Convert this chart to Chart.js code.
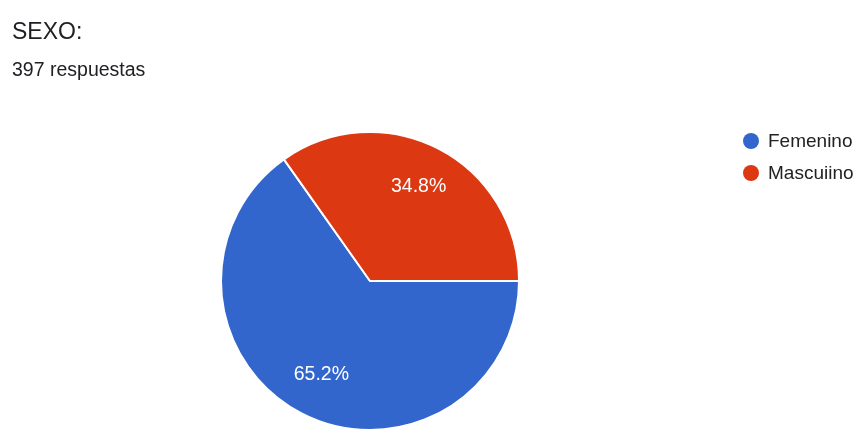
<!DOCTYPE html>
<html lang="es">
<head>
<meta charset="utf-8">
<title>SEXO:</title>
<script src="https://cdn.jsdelivr.net/npm/chart.js@4/dist/chart.umd.min.js"></script>
<style>
  html, body { margin: 0; padding: 0; background: #ffffff; }
  #wrap { position: relative; width: 856px; height: 436px; overflow: hidden;
          font-family: "Liberation Sans", Arial, sans-serif; color: #202124; }
  #chart { position: absolute; left: 0; top: 0; }
  #title { position: absolute; left: 12px; top: 20px; font-size: 23px; line-height: 23px; white-space: nowrap; }
  #subtitle { position: absolute; left: 12px; top: 59px; font-size: 19.5px; line-height: 20px; white-space: nowrap; }
  #legend { position: absolute; left: 743px; top: 131px; }
  .item { position: relative; height: 32px; font-size: 19px; line-height: 20px; color: #222; white-space: nowrap; }
  .dot { position: absolute; left: 0; top: 2px; width: 16px; height: 16px; border-radius: 50%; }
  .lbl { position: absolute; left: 25px; top: 0; }
</style>
</head>
<body>
<div id="wrap">
  <canvas id="chart" width="856" height="436"></canvas>
  <div id="title"></div>
  <div id="subtitle"></div>
  <div id="legend"></div>
</div>
<script>
// Question and response count
const questionTitle = 'SEXO:';
const responseLabel = '397 respuestas';

// Answers and their shares (%)
const categories = ['Femenino', 'Mascuiino'];
const shares = [65.2, 34.8];
const sliceColors = ['#3366cc', '#dc3912'];

document.getElementById('title').textContent = questionTitle;
document.getElementById('subtitle').textContent = responseLabel;

// Legend built from the same categories and colours
const legend = document.getElementById('legend');
categories.forEach((name, i) => {
  const row = document.createElement('div');
  row.className = 'item';
  const dot = document.createElement('span');
  dot.className = 'dot';
  dot.style.background = sliceColors[i];
  const lbl = document.createElement('span');
  lbl.className = 'lbl';
  lbl.textContent = name;
  row.appendChild(dot);
  row.appendChild(lbl);
  legend.appendChild(row);
});

// Percentage labels inside each slice
const sliceLabels = {
  id: 'sliceLabels',
  afterDatasetsDraw(chart) {
    const { ctx } = chart;
    const meta = chart.getDatasetMeta(0);
    ctx.save();
    ctx.fillStyle = '#ffffff';
    ctx.font = '19.5px "Liberation Sans", Arial, sans-serif';
    ctx.textAlign = 'center';
    ctx.textBaseline = 'middle';
    meta.data.forEach((arc, i) => {
      const { x, y, startAngle, endAngle, outerRadius } = arc.getProps(['x', 'y', 'startAngle', 'endAngle', 'outerRadius'], true);
      const mid = (startAngle + endAngle) / 2;
      const r = outerRadius * 0.71;
      const v = chart.data.datasets[0].data[i];
      ctx.fillText(v.toFixed(1) + '%', x + Math.cos(mid) * r, y + Math.sin(mid) * r);
    });
    ctx.restore();
  }
};

new Chart(document.getElementById('chart'), {
  type: 'pie',
  data: {
    labels: categories,
    datasets: [{
      data: shares,
      backgroundColor: sliceColors,
      borderColor: '#ffffff',
      borderWidth: 2
    }]
  },
  options: {
    responsive: false,
    animation: false,
    rotation: 90,
    layout: { padding: { left: 220, right: 336, top: 131, bottom: 5 } },
    plugins: {
      legend: { display: false },
      tooltip: { enabled: false }
    }
  },
  plugins: [sliceLabels]
});
</script>
</body>
</html>
